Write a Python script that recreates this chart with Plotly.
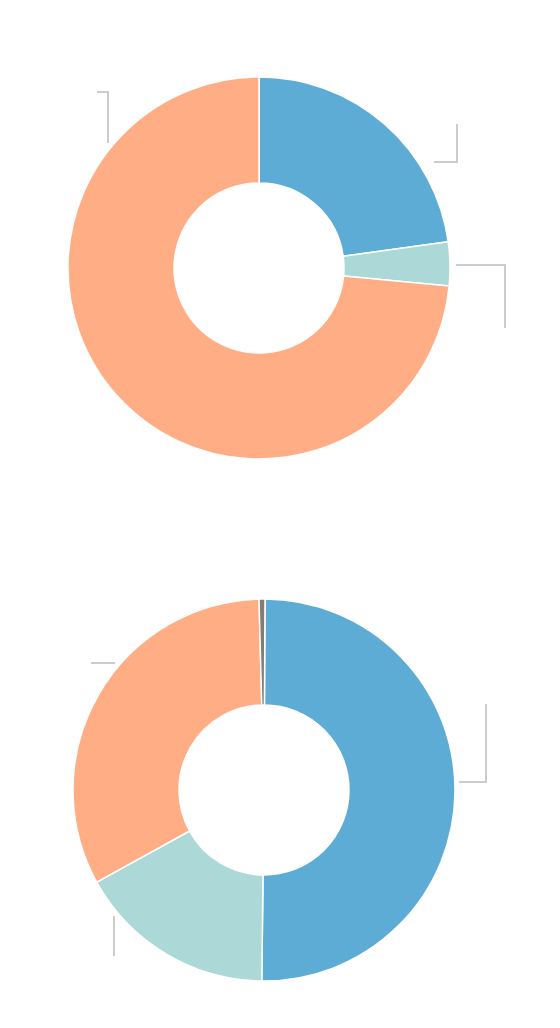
import plotly.graph_objects as go

W, H = 560, 1028
OFF = 8  # the page body adds an 8px margin

# top donut
top_labels = ["A", "B", "C"]
top_values = [22.8, 3.7, 73.5]
top_colors = ["#5dacd6", "#add8d8", "#ffad85"]

# bottom donut
bottom_labels = ["A", "B", "C", "D"]
bottom_values = [50.1, 16.8, 32.6, 0.5]
bottom_colors = ["#5dacd6", "#add8d8", "#ffad85", "#847b74"]

# leader lines (pixel polylines, labels are not shown in the source)
leaders = [
    [(434, 162), (457, 162), (457, 124)],
    [(456, 265), (505, 265), (505, 328)],
    [(97, 92), (108, 92), (108, 143)],
    [(459, 782), (486, 782), (486, 704)],
    [(91, 663), (115, 663)],
    [(114, 916), (114, 956)],
]


def px_x(x):
    return (x - OFF) / W


def px_y(y):
    return 1 - (y - OFF) / H


fig = go.Figure()

fig.add_trace(go.Pie(
    labels=top_labels, values=top_values, sort=False, direction="clockwise",
    hole=0.445, textinfo="none", hoverinfo="label+percent",
    marker=dict(colors=top_colors, line=dict(color="white", width=1.5)),
    domain=dict(x=[px_x(68), px_x(450)], y=[px_y(459), px_y(77)]),
))

fig.add_trace(go.Pie(
    labels=bottom_labels, values=bottom_values, sort=False, direction="clockwise",
    rotation=0.3, hole=0.445, textinfo="none", hoverinfo="label+percent",
    marker=dict(colors=bottom_colors, line=dict(color="white", width=1.5)),
    domain=dict(x=[px_x(73), px_x(455)], y=[px_y(981), px_y(599)]),
))

shapes = []
for pts in leaders:
    path = "M " + " L ".join(f"{px_x(x):.5f},{px_y(y):.5f}" for x, y in pts)
    shapes.append(dict(type="path", path=path, xref="paper", yref="paper",
                       line=dict(color="#cccccc", width=2)))

fig.update_layout(
    width=W, height=H,
    margin=dict(l=0, r=0, t=0, b=0),
    showlegend=False,
    paper_bgcolor="white",
    plot_bgcolor="white",
    shapes=shapes,
)

fig.write_html("out.html")
